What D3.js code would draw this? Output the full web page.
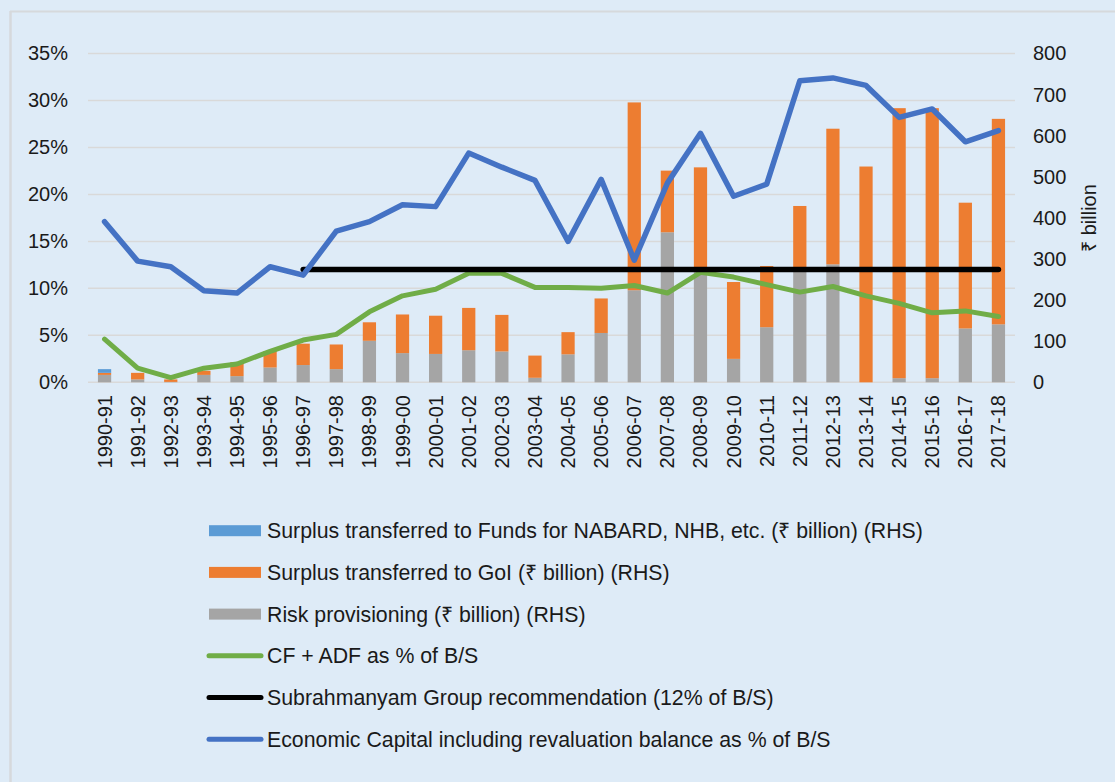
<!DOCTYPE html>
<html>
<head>
<meta charset="utf-8">
<script src="https://cdn.jsdelivr.net/npm/d3@7"></script>
<style>
  html, body { margin: 0; padding: 0; background: #DEEBF7; }
  svg { display: block; font-family: Arial, "Liberation Sans", sans-serif; }
</style>
</head>
<body>
<div id="chart"></div>
<script>
'use strict';

// chart data
const years = ['1990-91','1991-92','1992-93','1993-94','1994-95','1995-96','1996-97','1997-98','1998-99','1999-00',
    '2000-01','2001-02','2002-03','2003-04','2004-05','2005-06','2006-07','2007-08','2008-09','2009-10',
    '2010-11','2011-12','2012-13','2013-14','2014-15','2015-16','2016-17','2017-18'];

// ₹ billion (RHS)
const riskProvisioning = [18, 7, 1, 18, 15, 36, 42, 32, 101, 71, 69, 78, 75, 11, 68, 120, 224, 365, 272, 57,
    134, 272, 287, 0, 10, 10, 131, 141];
const surplusToGoI = [5, 16, 6, 10, 34, 40, 52, 60, 45, 94, 93, 103, 89, 54, 54, 84, 457, 150, 251, 187,
    149, 157, 330, 525, 657, 657, 306, 500];
const surplusToFunds = [9, 0, 0, 0, 0, 0, 0, 0, 0, 0, 0, 0, 0, 0, 0, 0, 0, 0, 0, 0,
    0, 0, 0, 0, 0, 0, 0, 0];

// % of B/S (LHS)
const cfAdf = [4.6, 1.5, 0.5, 1.5, 1.95, 3.3, 4.5, 5.1, 7.5, 9.2, 9.9, 11.6, 11.6, 10.1, 10.1, 10.0, 10.3, 9.5, 11.7, 11.2,
    10.4, 9.6, 10.2, 9.2, 8.4, 7.4, 7.6, 7.0];
const economicCapital = [17.1, 12.9, 12.3, 9.75, 9.5, 12.3, 11.4, 16.1, 17.1, 18.9, 18.7, 24.4, 22.9, 21.5, 15.0, 21.6, 13.0, 21.2, 26.5, 19.8,
    21.1, 32.1, 32.4, 31.6, 28.2, 29.1, 25.6, 26.8];
const recommendation = 12; // from 1996-97 onward
const recommendationStart = '1996-97';

const leftTicks = [0, 5, 10, 15, 20, 25, 30, 35];
const rightTicks = [0, 100, 200, 300, 400, 500, 600, 700, 800];

const legendItems = [
    { label: 'Surplus transferred to Funds for NABARD, NHB, etc. (₹ billion) (RHS)', type: 'bar', color: '#5B9BD5' },
    { label: 'Surplus transferred to GoI (₹ billion) (RHS)', type: 'bar', color: '#ED7D31' },
    { label: 'Risk provisioning (₹ billion) (RHS)', type: 'bar', color: '#A5A5A5' },
    { label: 'CF + ADF as % of B/S', type: 'line', color: '#70AD47' },
    { label: 'Subrahmanyam Group recommendation (12% of B/S)', type: 'line', color: '#000000' },
    { label: 'Economic Capital including revaluation balance as % of B/S', type: 'line', color: '#4472C4' }
];

const W = 1115, H = 782;
const plot = { left: 88, right: 1015, top: 53.5, bottom: 382.3 };

const svg = d3.select('#chart').append('svg')
    .attr('width', W)
    .attr('height', H);

// background + box edges
svg.append('rect').attr('width', W).attr('height', H).attr('fill', '#DEEBF7');
svg.append('line').attr('x1', 10.5).attr('x2', 10.5).attr('y1', 11).attr('y2', H)
    .attr('stroke', '#D6D9DC').attr('stroke-width', 2.5);
svg.append('line').attr('x1', 10).attr('x2', W).attr('y1', 11.5).attr('y2', 11.5)
    .attr('stroke', '#D6D9DC').attr('stroke-width', 2);

// scales
const x = d3.scaleBand().domain(years).range([plot.left, plot.right]).paddingInner(0.6).paddingOuter(0.3);
const xc = d => x(d) + x.bandwidth() / 2;
const yL = d3.scaleLinear().domain([0, 35]).range([plot.bottom, plot.top]);
const yR = d3.scaleLinear().domain([0, 800]).range([plot.bottom, plot.top]);

// gridlines (left axis)
svg.append('g')
    .selectAll('line')
    .data(leftTicks)
    .enter()
    .append('line')
    .attr('x1', plot.left)
    .attr('x2', plot.right)
    .attr('y1', d => yL(d))
    .attr('y2', d => yL(d))
    .attr('stroke', '#D9D9D9')
    .attr('stroke-width', 1.5);

// left axis labels
const leftAxis = svg.append('g')
    .attr('transform', `translate(${plot.left},0)`)
    .call(d3.axisLeft(yL).tickValues(leftTicks).tickFormat(d => d + '%').tickSize(0).tickPadding(20));
leftAxis.select('.domain').remove();
leftAxis.selectAll('text').attr('font-size', 20).attr('fill', '#1a1a1a').attr('font-family', 'Arial, "Liberation Sans", sans-serif');

// right axis labels
const rightAxis = svg.append('g')
    .attr('transform', `translate(${plot.right},0)`)
    .call(d3.axisRight(yR).tickValues(rightTicks).tickSize(0).tickPadding(18));
rightAxis.select('.domain').remove();
rightAxis.selectAll('text').attr('font-size', 20).attr('fill', '#1a1a1a').attr('font-family', 'Arial, "Liberation Sans", sans-serif');

// right axis title
svg.append('text')
    .attr('transform', 'translate(1096,218) rotate(-90)')
    .attr('text-anchor', 'middle')
    .attr('font-size', 20)
    .attr('fill', '#1a1a1a')
    .text('₹ billion');

// category labels
svg.append('g')
    .selectAll('text')
    .data(years)
    .enter()
    .append('text')
    .attr('transform', d => `translate(${xc(d) + 7},395) rotate(-90)`)
    .attr('text-anchor', 'end')
    .attr('font-size', 20)
    .attr('fill', '#1a1a1a')
    .text(d => d);

// stacked bars
const rows = years.map((yr, i) => ({
    year: yr,
    risk: riskProvisioning[i],
    gov: surplusToGoI[i],
    funds: surplusToFunds[i]
}));
const stack = d3.stack().keys(['risk', 'gov', 'funds'])(rows);
const barColors = { risk: '#A5A5A5', gov: '#ED7D31', funds: '#5B9BD5' };

svg.append('g')
    .selectAll('g')
    .data(stack)
    .enter()
    .append('g')
    .attr('fill', s => barColors[s.key])
    .selectAll('rect')
    .data(s => s)
    .enter()
    .append('rect')
    .attr('x', d => x(d.data.year))
    .attr('width', x.bandwidth())
    .attr('y', d => yR(d[1]))
    .attr('height', d => yR(d[0]) - yR(d[1]));

// lines
const line = d3.line()
    .x(d => xc(d.year))
    .y(d => yL(d.v));

function drawLine(values, color, width){
    svg.append('path')
        .datum(values)
        .attr('d', line)
        .attr('fill', 'none')
        .attr('stroke', color)
        .attr('stroke-width', width)
        .attr('stroke-linejoin', 'round')
        .attr('stroke-linecap', 'round');
}

drawLine(years.map((yr, i) => ({ year: yr, v: cfAdf[i] })), '#70AD47', 5);
const recIdx = years.indexOf(recommendationStart);
drawLine(years.slice(recIdx).map(yr => ({ year: yr, v: recommendation })), '#000000', 5.5);
drawLine(years.map((yr, i) => ({ year: yr, v: economicCapital[i] })), '#4472C4', 5.5);

// legend
const legend = svg.append('g')
    .selectAll('g')
    .data(legendItems)
    .enter()
    .append('g')
    .attr('transform', (d, i) => `translate(0,${530.7 + i * 41.7})`);

legend.filter(d => d.type === 'bar')
    .append('rect')
    .attr('x', 209)
    .attr('y', -5.5)
    .attr('width', 52)
    .attr('height', 11)
    .attr('fill', d => d.color);

legend.filter(d => d.type === 'line')
    .append('line')
    .attr('x1', 209)
    .attr('x2', 261)
    .attr('stroke', d => d.color)
    .attr('stroke-width', 5)
    .attr('stroke-linecap', 'round');

legend.append('text')
    .attr('x', 267)
    .attr('dy', '0.35em')
    .attr('font-size', 21.3)
    .attr('fill', '#1a1a1a')
    .text(d => d.label);
</script>
</body>
</html>
